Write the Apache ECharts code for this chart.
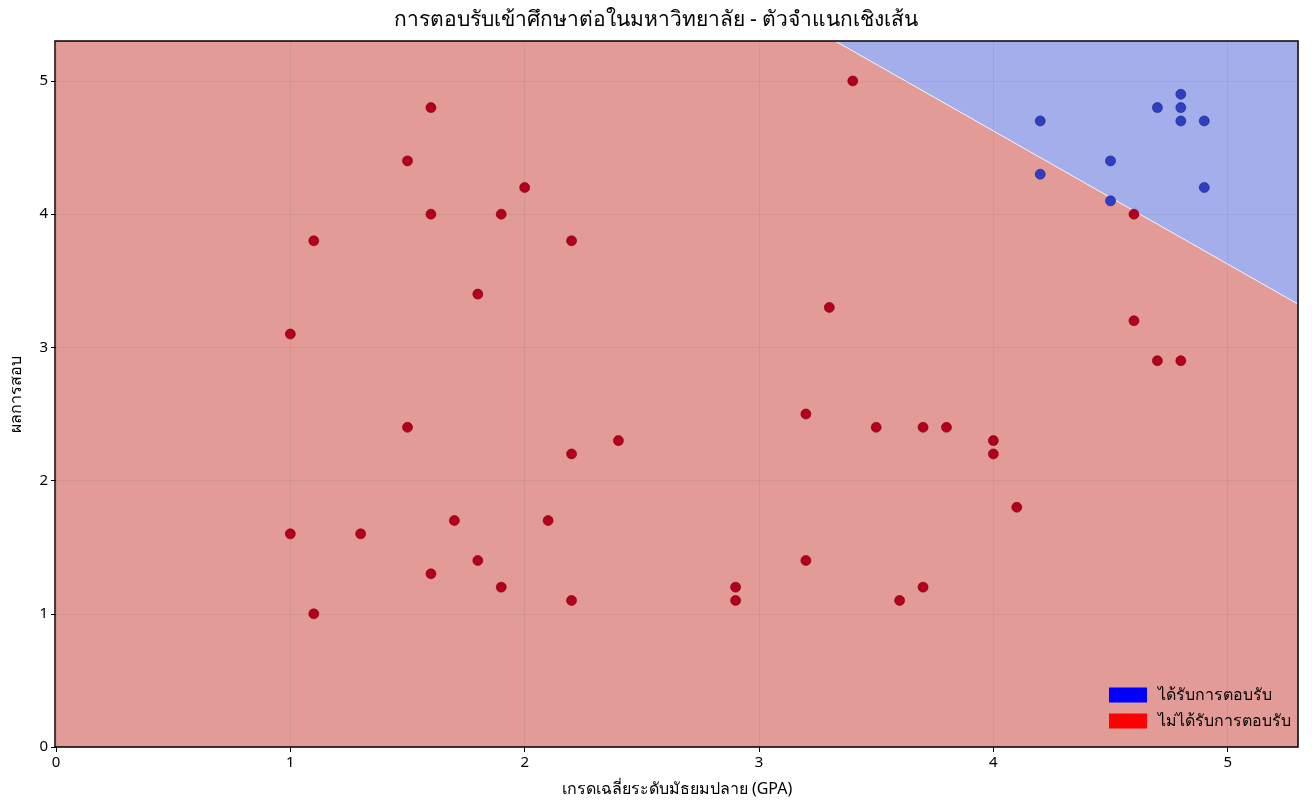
<!DOCTYPE html>
<html><head><meta charset="utf-8">
<script src="https://cdn.jsdelivr.net/npm/echarts@6/dist/echarts.min.js"></script>
<style>html,body{margin:0;padding:0;background:#fff}#c{width:1312px;height:810px}</style>
</head><body><div id="c"></div>
<script>
const rejected = [[1.0,3.1],[1.0,1.6],[1.1,3.8],[1.1,1.0],[1.3,1.6],[1.5,4.4],[1.5,2.4],[1.6,4.8],[1.6,4.0],[1.6,1.3],[1.7,1.7],[1.8,3.4],[1.8,1.4],[1.9,4.0],[1.9,1.2],[2.0,4.2],[2.1,1.7],[2.2,3.8],[2.2,2.2],[2.2,1.1],[2.4,2.3],[2.9,1.2],[2.9,1.1],[3.2,2.5],[3.2,1.4],[3.3,3.3],[3.4,5.0],[3.5,2.4],[3.6,1.1],[3.7,2.4],[3.7,1.2],[3.8,2.4],[4.0,2.3],[4.0,2.2],[4.1,1.8],[4.6,4.0],[4.6,3.2],[4.7,2.9],[4.8,2.9]];
const accepted = [[4.2,4.7],[4.2,4.3],[4.5,4.4],[4.5,4.1],[4.7,4.8],[4.8,4.9],[4.8,4.8],[4.8,4.7],[4.9,4.7],[4.9,4.2]];
const axisMax = 5.3;
const boundarySum = 8.625; // x + y on decision boundary
const redRegion = [[0,0],[axisMax,0],[axisMax,boundarySum-axisMax],[boundarySum-axisMax,axisMax],[0,axisMax]];
const blueRegion = [[boundarySum-axisMax,axisMax],[axisMax,axisMax],[axisMax,boundarySum-axisMax]];
const nameAcc = 'ได้รับการตอบรับ', nameRej = 'ไม่ได้รับการตอบรับ';
function poly(pts, fill, stroke){
  return {type:'custom', renderItem:(p,api)=> p.dataIndex===0 ? {type:'polygon', shape:{points:pts.map(q=>api.coord(q))}, style:{fill:fill, stroke: stroke, lineWidth:0.8}} : null,
    data:[[0,0]], silent:true, z:1};
}
const chart = echarts.init(document.getElementById('c'));
const font = "'Noto Sans','DejaVu Sans',sans-serif";
const gridLine = {show:true, lineStyle:{color:'rgba(110,110,110,0.13)'}};
chart.setOption({
  animation:false,
  textStyle:{fontFamily:font},
  title:{text:'การตอบรับเข้าศึกษาต่อในมหาวิทยาลัย - ตัวจำแนกเชิงเส้น', left:'center', top:5, textStyle:{fontSize:21, fontWeight:'normal', color:'#000', fontFamily:font}},
  grid:{left:55, right:14, top:41, bottom:63},
  xAxis:{type:'value', z:3, min:0, max:axisMax, interval:1, name:'เกรดเฉลี่ยระดับมัธยมปลาย (GPA)', nameLocation:'middle', nameGap:34, nameTextStyle:{fontSize:16,color:'#000'},
    axisLine:{show:false}, axisTick:{show:true, lineStyle:{color:'#000'}}, axisLabel:{color:'#000', fontSize:15, showMaxLabel:false},
    splitLine:gridLine},
  yAxis:{type:'value', z:3, min:0, max:axisMax, interval:1, name:'ผลการสอบ', nameLocation:'middle', nameGap:32, nameTextStyle:{fontSize:16,color:'#000'},
    axisLine:{show:false}, axisTick:{show:true, lineStyle:{color:'#000'}}, axisLabel:{color:'#000', fontSize:15, showMaxLabel:false},
    splitLine:gridLine},
  legend:{right:16, bottom:76, orient:'vertical', itemWidth:38, itemHeight:15, itemGap:10, icon:'rect',
    textStyle:{fontSize:16, color:'#000', padding:[0,0,0,6]},
    data:[{name:nameAcc, itemStyle:{color:'#0000ff'}},{name:nameRej, itemStyle:{color:'#ff0000'}}]},
  series:[
    Object.assign(poly(redRegion,'#e39b98','none'),{name:nameRej}),
    Object.assign(poly(blueRegion,'#a3aeea','#ffffff'),{name:nameAcc}),
    {type:'scatter', data:rejected, symbolSize:10, itemStyle:{color:'#b3001e', opacity:1, borderColor:'#7a0010', borderWidth:0.6}, z:5},
    {type:'scatter', data:accepted, symbolSize:10, itemStyle:{color:'#2f3fc2', opacity:1, borderColor:'#1a237a', borderWidth:0.6}, z:5}
  ],
  graphic:[{type:'rect', shape:{x:55,y:41,width:1243,height:706}, style:{fill:'none', stroke:'#000', lineWidth:1.5}, z:100}]
});
</script></body></html>
